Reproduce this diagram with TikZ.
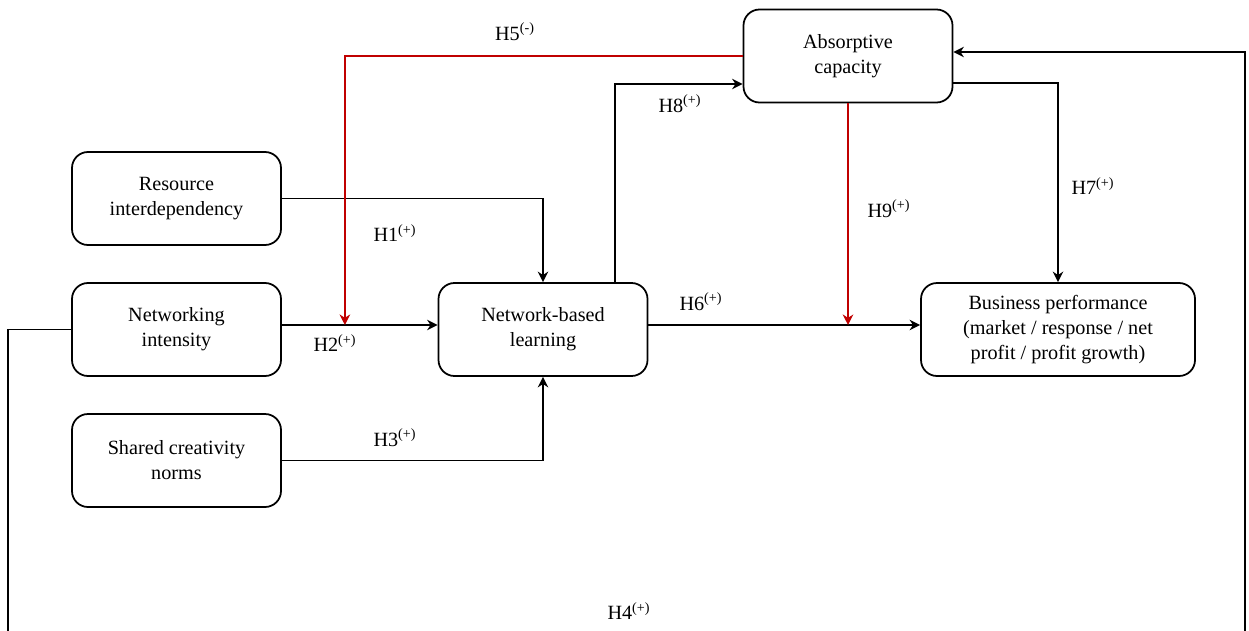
\documentclass[tikz,border=0pt]{standalone}
\usepackage{fontspec}
\setmainfont{Liberation Serif}
\usepackage{xcolor}
\usetikzlibrary{arrows.meta}
\definecolor{hypred}{RGB}{192,0,0}

\begin{document}
\begin{tikzpicture}[
  font=\fontsize{11.5}{14.2}\selectfont,
  box/.style={draw, line width=1pt, rounded corners=0.32cm, minimum width=4.18cm, minimum height=1.86cm, align=center, inner sep=0pt},
  arr/.style={-{Stealth[length=6pt,width=6pt]}, line width=0.9pt},
  redarr/.style={arr, draw=hypred},
  hyp/.style={inner sep=0pt}
]
\useasboundingbox (0,0) rectangle (24.98,12.6) ;

\node[box] (abs) at (16.96,11.48) {Absorptive\\capacity} ;
\node[box] (res) at (3.53,8.63) {Resource\\interdependency} ;
\node[box] (net) at (3.53,6.01) {Networking\\intensity} ;
\node[box] (sha) at (3.53,3.39) {Shared creativity\\norms} ;
\node[box] (nbl) at (10.86,6.01) {Network-based\\learning} ;
\node[box, minimum width=5.48cm] (bus) at (21.16,6.01) {Business performance\\(market / response / net\\profit / profit growth)} ;

\coordinate (h4a) at (0.16,-0.6) ;
\coordinate (h4b) at (24.9,-0.6) ;

\draw[arr] (res.east) -| (nbl.north) ;
\draw[arr] ([yshift=0.09cm]net.east) -- ([yshift=0.09cm]nbl.west) ;
\draw[arr] (sha.east) -| (nbl.south) ;
\draw[arr] ([yshift=0.09cm]nbl.east) -- ([yshift=0.09cm]bus.west) ;
\draw[arr] ([xshift=1.44cm]nbl.north) |- ([yshift=-0.56cm]abs.west) ;
\draw[arr] ([yshift=-0.54cm]abs.east) -| (bus.north) ;
\draw[arr] (net.west) -| (h4a) -- (h4b) |- ([yshift=0.08cm]abs.east) ;
\draw[redarr] (abs.west) -| ([xshift=1.26cm,yshift=0.09cm]net.east) ;
\draw[redarr] (abs.south) -- ([yshift=0.09cm]abs.south |- nbl.east) ;

\node[hyp] (h1) at (7.9,7.94) {H1\textsuperscript{(+)}} ;
\node[hyp] (h2) at (6.7,5.74) {H2\textsuperscript{(+)}} ;
\node[hyp] (h3) at (7.9,3.84) {H3\textsuperscript{(+)}} ;
\node[hyp] (h4) at (12.58,0.38) {H4\textsuperscript{(+)}} ;
\node[hyp] (h5) at (10.3,11.96) {H5\textsuperscript{(-)}} ;
\node[hyp] (h6) at (14.02,6.56) {H6\textsuperscript{(+)}} ;
\node[hyp] (h7) at (21.86,8.88) {H7\textsuperscript{(+)}} ;
\node[hyp] (h8) at (13.6,10.52) {H8\textsuperscript{(+)}} ;
\node[hyp] (h9) at (17.78,8.42) {H9\textsuperscript{(+)}} ;

\end{tikzpicture}
\end{document}
